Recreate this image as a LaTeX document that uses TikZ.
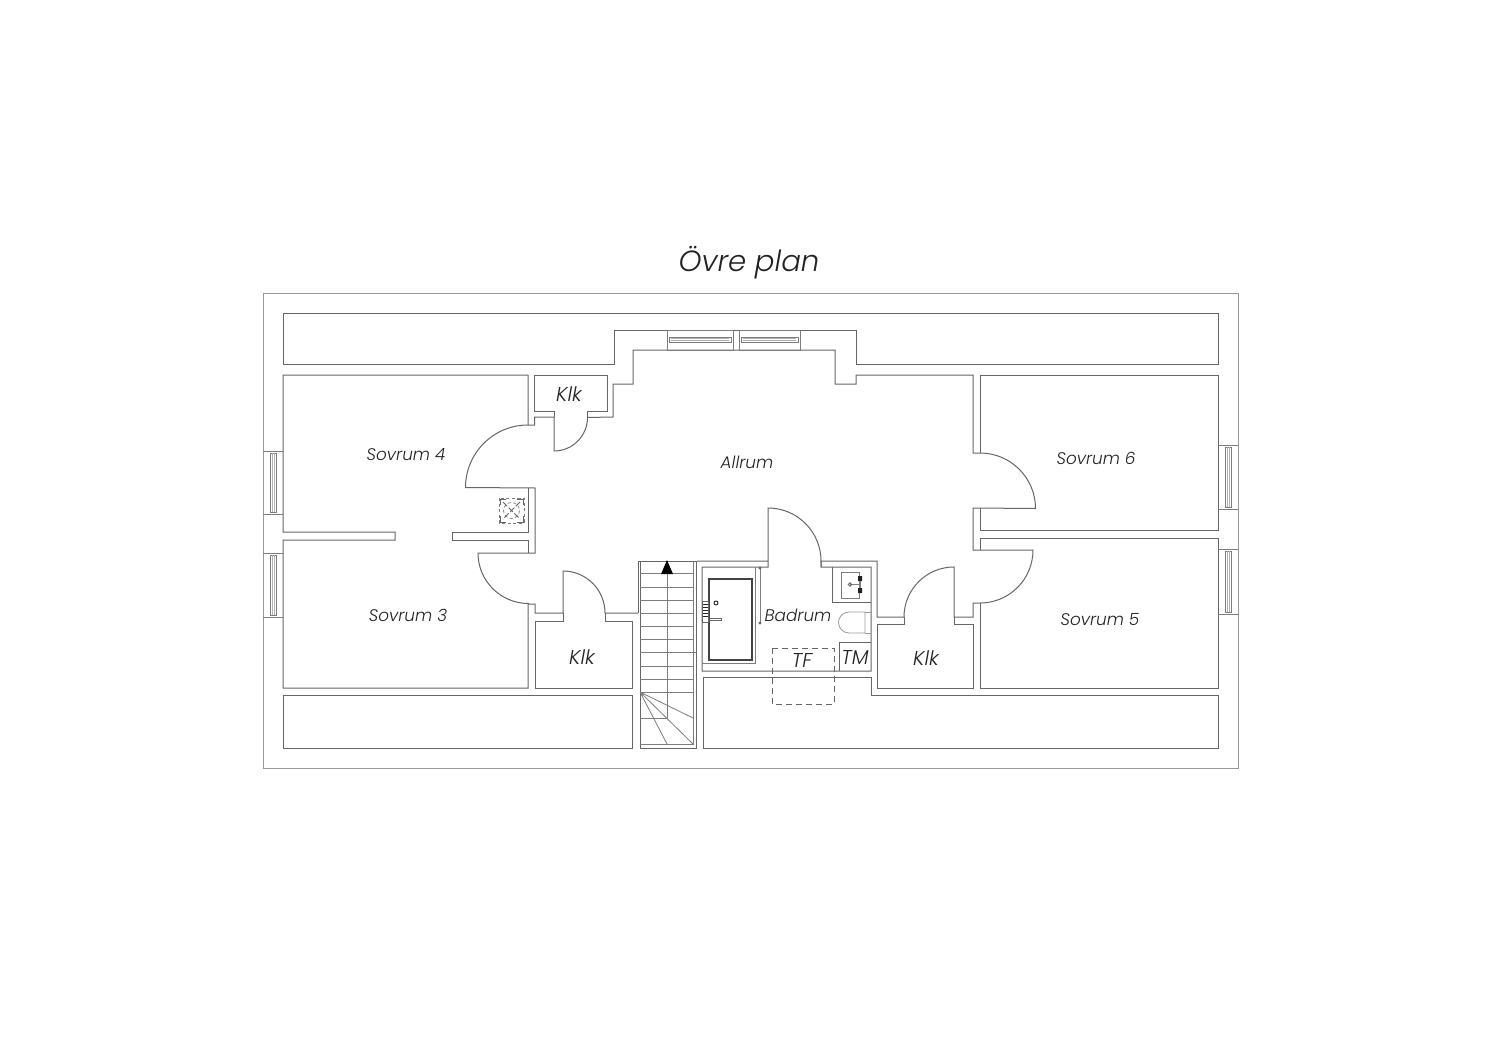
\documentclass[tikz,border=0pt]{standalone}
\usepackage{fontspec}
\setmainfont{Poppins Light Italic}
\definecolor{wall}{HTML}{666666}
\definecolor{ink}{HTML}{222222}
\tikzset{
  x=0.5pt,y=-0.5pt,
  wl/.style={draw=wall,line width=0.5pt,line join=miter},
  thin/.style={draw=wall!85,line width=0.4pt},
  thick/.style={draw=ink!85,line width=1.05pt},
  outerw/.style={draw=gray!80,line width=0.5pt},
  lab/.style={text=ink,font=\fontsize{8.4}{10}\selectfont,inner sep=0pt},
  labb/.style={text=ink,font=\fontsize{10}{11}\selectfont,inner sep=0pt},
  dsh/.style={draw=wall,line width=0.4pt,dash pattern=on 3pt off 2pt},
  dshv/.style={draw=wall!85,line width=0.35pt,dash pattern=on 1.6pt off 1.2pt},
}
\begin{document}
\begin{tikzpicture}
\useasboundingbox (0,0) rectangle (1500,1060);
\fill[white] (0,0) rectangle (1500,1060);
% outer
\draw[outerw] (263,293) rectangle (1238,768);
% attics
\draw[wl] (283,313)--(1218,313)--(1218,364)--(856,364)--(856,330)--(614,330)--(614,364)--(283,364)--cycle;
\draw[wl] (283,695)--(632,695)--(632,748)--(283,748)--cycle;
\draw[wl] (703,677)--(871,677)--(871,695)--(1218,695)--(1218,748)--(703,748)--cycle;
% Sovrum 4 + 3 + lower left closet door
\draw[wl] (528,425)--(528,375)--(283,375)--(283,532)--(395,532)--(395,540)--(283,540)--(283,688)--(528,688)--(528,604)--(535,604)--(535,613)--(563,613)--(563,571) arc[start angle=-90,end angle=0,radius=42]--(638,613);
% Allrum outline
\draw[wl] (528,425)--(534.5,425)--(534.5,417)--(554,417)--(554,451) arc[start angle=90,end angle=0,radius=33.5]--(613,417)--(613,384)--(633,384)--(633,350)--(835,350)--(835,384)--(856,384)--(856,375)--(973,375)--(973,453)--(980,453) arc[start angle=-90,end angle=0,radius=55.5]--(973,508)--(973,550)--(1033,550) arc[start angle=0,end angle=90,radius=53]--(973,603)--(973,617)--(954,617)--(954,567) arc[start angle=-90,end angle=-180,radius=50]--(877,617)--(877,561)--(821,561)--(821,567);
\draw[wl] (528,425) arc[start angle=-90,end angle=-180,radius=62.5]--(535,488)--(535,553)--(478,553) arc[start angle=180,end angle=90,radius=50.5]--(528,604);
\draw[wl] (528,488)--(528,532)--(452,532)--(452,540.5)--(528,540.5)--(528,553);
% Klk top
\draw[wl] (554,417)--(554,411)--(534.5,411)--(534.5,375)--(607,375)--(607,411)--(587,411)--(587,417);
% Klk lower left
\draw[wl] (563,613)--(563,621)--(535,621)--(535,688)--(632,688)--(632,621)--(605,621)--(605,613);
% Sovrum 6, 5
\draw[wl] (980,453)--(980,375)--(1218,375)--(1218,530)--(980,530)--(980,508);
\draw[wl] (980,550)--(980,538)--(1218,538)--(1218,688)--(980,688)--(980,603);
% Klk lower right
\draw[wl] (904,617)--(904,624)--(877,624)--(877,688)--(973,688)--(973,624)--(954,624)--(954,617);
% Badrum
\draw[wl] (697,561)--(768,561)--(768,508) arc[start angle=-90,end angle=0,radius=53]--(821,567)--(871,567)--(871,671)--(702,671)--(702,567)--(768,567)--(768,561);
\draw[thin] (755,567)--(755,663)--(702,663);
\draw[thick] (709,579) rectangle (752,660);
\draw[ink,line width=.45pt] (716,603) circle[radius=2];
\draw[wall,line width=.5pt] (702.5,601) rectangle (708,622);
\foreach \yy in {604,607,610,613,616}{\draw[ink,line width=.45pt] (703,\yy)--(708,\yy);}
\draw[wall,line width=.5pt] (708,618) rectangle (721,620.5);
\draw[thin] (760,568)--(760,623);
\fill[wall] (760,568) circle[radius=1.6] (760,623) circle[radius=1.6];
% sink
\draw[wl] (832,567)--(832,602)--(871,602);
\draw[thin] (841,572) rectangle (859,598);
\draw[thin] (850,584.5)--(860,584.5) (860,578)--(860,590);
\draw[wall,line width=.4pt] (850,584.5) circle[radius=1.7];
\fill[ink] (858,576) rectangle (862,581) (858,588) rectangle (862,593);
% toilet
\draw[draw=wall!65,line width=.42pt] (865,612)--(849,612) arc[start angle=-90,end angle=-270,radius=10.5]--(865,633)--cycle;
\draw[draw=wall!65,line width=.42pt] (865,612)--(871,612) (865,633)--(871,633);
% TM
\draw[wl] (839,671)--(839,642)--(871,642);
% TF
\draw[dsh] (772,648) rectangle (834,704);
% Stairs
\draw[wl] (697,561)--(638,561)--(638,613);
\draw[wl] (640,561)--(640,748)--(696,748)--(696,561);
\draw[thin] (693,561)--(693,744)--(640,744);
\foreach \yy in {573,587,600,613,626,639,652,666,679,692}{\draw[thin] (640,\yy)--(693,\yy);}
\draw[thin] (693,652)--(696,652);
\draw[thin] (667,574)--(667,718)--(640,718);
\draw[thin] (640,692)--(693,718) (640,692)--(667,744) (640,692)--(693,744);
\fill[black] (667,560)--(673,574)--(661,574)--cycle;
% Windows
\foreach \ya/\yb in {451/514,553/617}{
  \draw[thin] (263,\ya)--(283,\ya) (263,\yb)--(283,\yb);
  \draw[thin] (270,\ya+2) rectangle (276,\yb-2);
  \draw[thin,draw=wall!50] (272,\ya+2)--(272,\yb-2) (274,\ya+2)--(274,\yb-2);
}
\foreach \ya/\yb in {445/509,549/614}{
  \draw[thin] (1218,\ya)--(1238,\ya) (1218,\yb)--(1238,\yb);
  \draw[thin] (1225,\ya+2) rectangle (1231,\yb-2);
  \draw[thin,draw=wall!50] (1227,\ya+2)--(1227,\yb-2) (1229,\ya+2)--(1229,\yb-2);
}
\foreach \xa/\xb in {667/733,739/800}{
  \draw[thin] (\xa,330) rectangle (\xb,350);
  \draw[thin] (\xa+2,337) rectangle (\xb-2,342);
  \draw[thin,draw=wall!50] (\xa+4,338.5)--(\xb-4,338.5) (\xa+4,340.5)--(\xb-4,340.5);
}
% vent
\draw[dshv] (499,498) rectangle (524,523);
\draw[dshv] (511.5,510.5) circle[radius=8];
\draw[draw=wall,line width=.4pt,dash pattern=on 3pt off 1pt] (503,502)--(520,519) (520,502)--(503,519);
\foreach \cx/\cy/\sx/\sy in {500/499/1/1,523/499/-1/1,500/522/1/-1,523/522/-1/-1}{
  \draw[wall,line width=.4pt] (\cx+\sx*6,\cy)--(\cx,\cy)--(\cx,\cy+\sy*6);
}
% labels
\node[lab,font=\fontsize{14.6}{18}\selectfont] (title) at (749,263) {Övre plan};
\node[lab] (s4) at (406,455) {Sovrum 4};
\node[lab] (s3) at (408,615) {Sovrum 3};
\node[lab] (s6) at (1096,458) {Sovrum 6};
\node[lab] (s5) at (1100,619.5) {Sovrum 5};
\node[lab] (allrum) at (747,462) {Allrum};
\node[lab] (badrum) at (798,615) {Badrum};
\node[labb] (k1) at (569,394) {Klk};
\node[labb] (k2) at (582,657) {Klk};
\node[labb] (k3) at (926,658) {Klk};
\node[labb] (tf) at (802,661) {TF};
\node[labb] (tm) at (855,658) {TM};
\end{tikzpicture}
\end{document}
